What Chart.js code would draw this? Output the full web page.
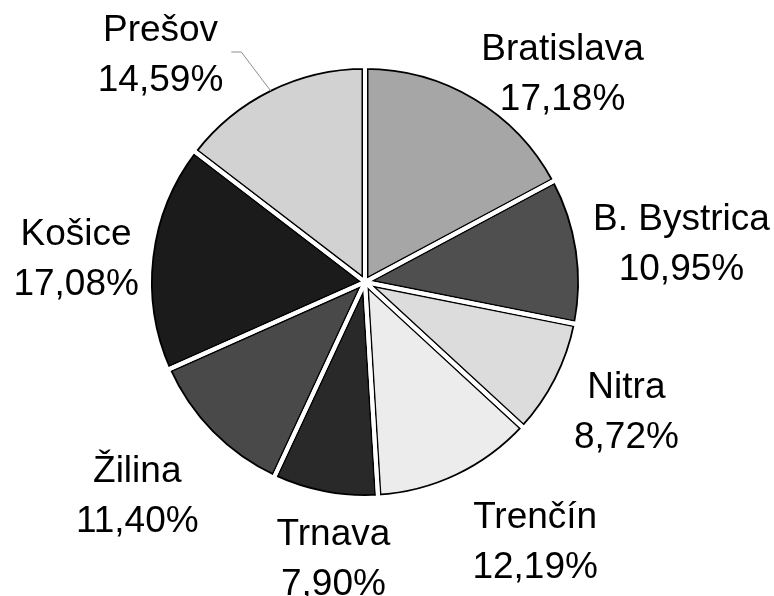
<!DOCTYPE html>
<html>
<head>
<meta charset="utf-8">
<script src="https://cdn.jsdelivr.net/npm/chart.js@4.4.1/dist/chart.umd.min.js"></script>
<style>
  html, body { margin: 0; padding: 0; background: #ffffff; }
  #wrap { width: 774px; height: 596px; }
</style>
</head>
<body>
<div id="wrap"><canvas id="c" width="774" height="596"></canvas></div>
<script>
// ---- data ----
const categories = ['Bratislava', 'B. Bystrica', 'Nitra', 'Trenčín', 'Trnava', 'Žilina', 'Košice', 'Prešov'];
const shares = [17.18, 10.95, 8.72, 12.19, 7.90, 11.40, 17.08, 14.59];

// ---- styles ----
const sliceColors = ['#a6a6a6', '#4f4f4f', '#dcdcdc', '#ececec', '#292929', '#494949', '#1b1b1b', '#d2d2d2'];
// label placement: angular nudge (deg) from slice mid-angle, distance of label block centre from pie centre (px)
const labelAngleNudge = [12.4, 1.2, -0.9, -8, -4.2, 1.6, -1.7, -15.5];
const labelDistance = [288, 319, 291, 309, 277, 311, 290, 307];
const labelLeader = [false, false, false, false, false, false, false, true];

const GAP = 4;          // white gap between slices
const EDGE = 1.5;       // black outline width

function fmt(v) { return v.toFixed(2).replace('.', ',') + '%'; }

const gapPlugin = {
  id: 'gapPlugin',
  afterDatasetsDraw(chart) {
    const ctx = chart.ctx;
    const meta = chart.getDatasetMeta(0);
    meta.data.forEach(arc => {
      const orig = arc.options;
      const o = Object.assign({}, orig);
      o.backgroundColor = 'rgba(0,0,0,0)';
      o.borderColor = '#ffffff';
      o.borderWidth = GAP;
      o.borderAlign = 'center';
      o.borderJoinStyle = 'miter';
      arc.options = o;
      arc.draw(ctx);
      arc.options = orig;
    });
  }
};

const labelPlugin = {
  id: 'labelPlugin',
  afterDraw(chart) {
    const ctx = chart.ctx;
    const meta = chart.getDatasetMeta(0);
    ctx.save();
    ctx.font = '37px "Liberation Sans", Arial, sans-serif';
    ctx.fillStyle = '#000000';
    ctx.textAlign = 'center';
    ctx.textBaseline = 'alphabetic';
    meta.data.forEach((arc, i) => {
      const mid = (arc.startAngle + arc.endAngle) / 2;
      const a = mid + labelAngleNudge[i] * Math.PI / 180;
      const cx = arc.x + Math.cos(a) * labelDistance[i];
      const cy = arc.y + Math.sin(a) * labelDistance[i];
      const l1 = chart.data.labels[i];
      const l2 = fmt(chart.data.datasets[0].data[i]);
      ctx.fillText(l1, cx, cy - 12);
      ctx.fillText(l2, cx, cy + 38);
      if (labelLeader[i]) {
        const w = Math.max(ctx.measureText(l1).width, ctx.measureText(l2).width);
        const right = cx + w / 2;
        const r = arc.outerRadius - GAP / 2 - 1;
        const ex = arc.x + Math.cos(mid) * r;
        const ey = arc.y + Math.sin(mid) * r;
        ctx.save();
        ctx.strokeStyle = '#8c8c8c';
        ctx.lineWidth = 1;
        ctx.beginPath();
        ctx.moveTo(ex, ey);
        ctx.lineTo(right + 18, cy - 1);
        ctx.lineTo(right + 8, cy - 1);
        ctx.stroke();
        ctx.restore();
      }
    });
    ctx.restore();
  }
};

new Chart(document.getElementById('c'), {
  type: 'pie',
  data: {
    labels: categories,
    datasets: [{
      data: shares,
      backgroundColor: sliceColors,
      borderColor: '#000000',
      borderWidth: GAP / 2 + EDGE,
      borderAlign: 'inner',
      hoverOffset: 0
    }]
  },
  options: {
    responsive: false,
    animation: false,
    events: [],
    radius: 216,
    layout: { padding: { left: 140, right: 184, top: 50, bottom: 82 } },
    plugins: {
      legend: { display: false },
      tooltip: { enabled: false },
      title: { display: false }
    }
  },
  plugins: [gapPlugin, labelPlugin]
});
</script>
</body>
</html>
